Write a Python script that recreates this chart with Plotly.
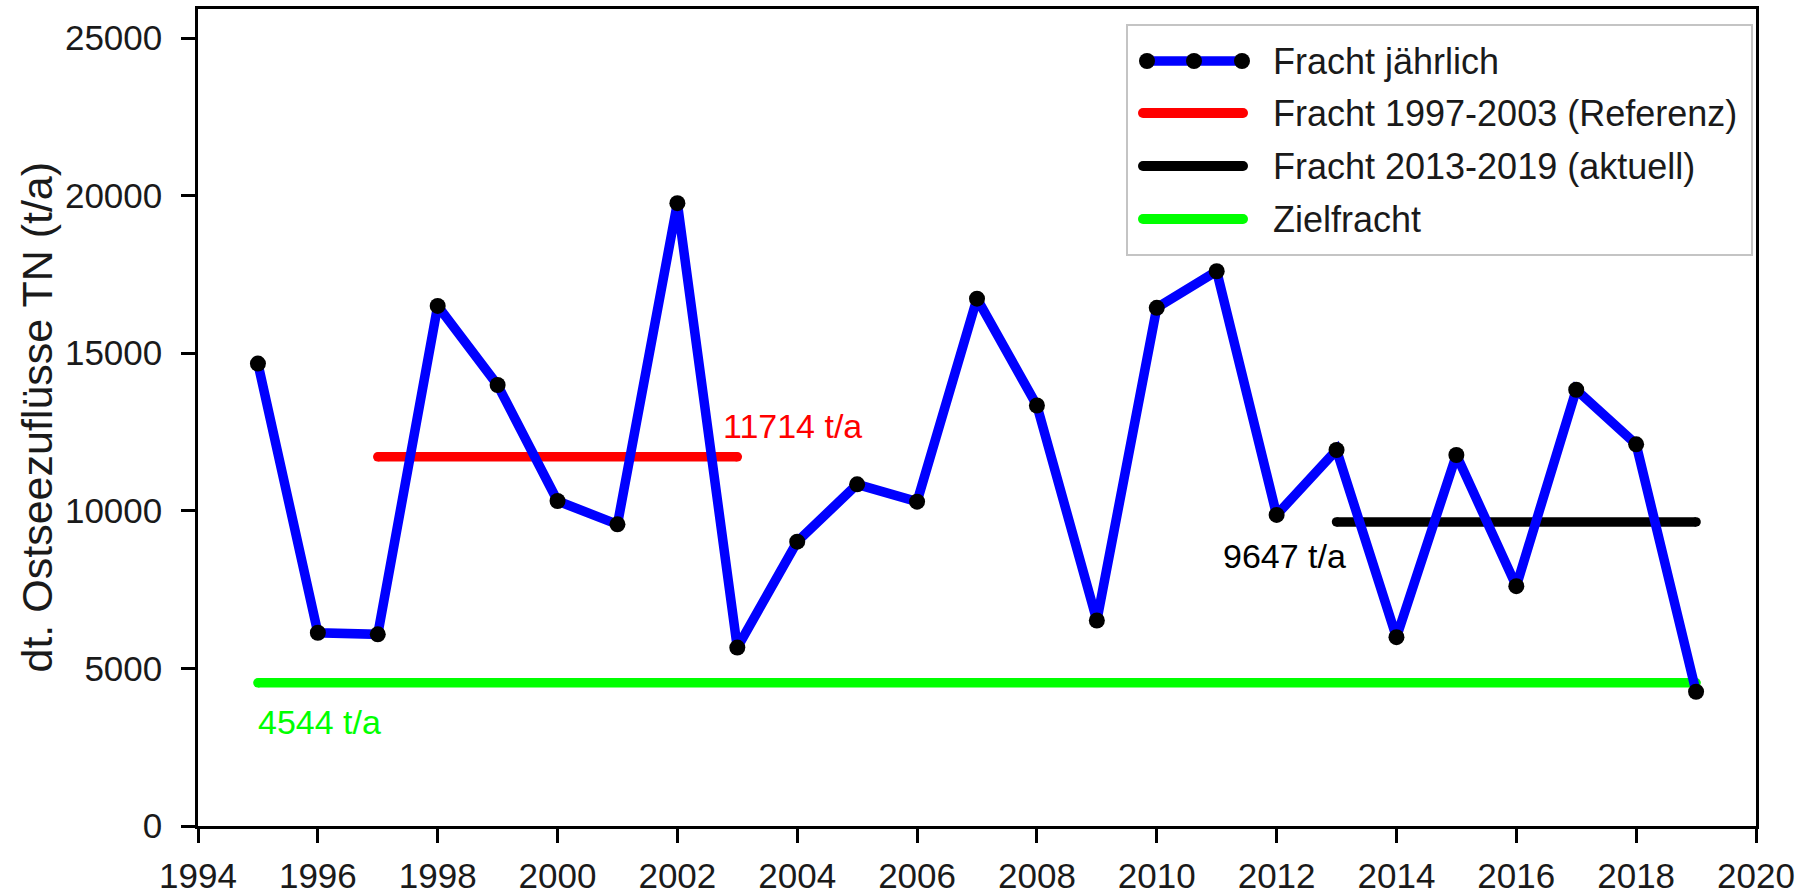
import plotly.graph_objects as go

# Annual total-nitrogen loads of the German Baltic Sea tributaries
years = list(range(1995, 2020))
loads = [14670, 6130, 6080, 16500, 13990, 10310, 9570, 19760, 5660, 9020,
         10840, 10290, 16730, 13340, 6520, 16440, 17600, 9870, 11930, 5990,
         11770, 7610, 13840, 12110, 4260]

# Period means and target load
ref_years = [1997, 2003]
ref_load = 11714
cur_years = [2013, 2019]
cur_load = 9647
target_years = [1995, 2019]
target_load = 4544

legend_labels = ["Fracht jährlich", "Fracht 1997-2003 (Referenz)",
                 "Fracht 2013-2019 (aktuell)", "Zielfracht"]

FONT = "Liberation Sans, Arial, sans-serif"
W, H = 1809, 896
ML, MR, MT, MB = 198, 53, 9, 70
LW = 9.5

fig = go.Figure()


def level_line(xs, val, color):
    # horizontal line with rounded ends (end markers of line width)
    fig.add_trace(go.Scatter(
        x=xs, y=[val, val], mode="lines+markers",
        line=dict(color=color, width=LW),
        marker=dict(color=color, size=LW, line=dict(width=0)),
        showlegend=False, hoverinfo="skip"))


level_line(target_years, target_load, "#00ff00")
level_line(ref_years, ref_load, "#ff0000")
level_line(cur_years, cur_load, "#000000")

fig.add_trace(go.Scatter(
    x=years, y=loads, mode="lines+markers",
    line=dict(color="#0000ff", width=LW),
    marker=dict(color="black", size=16, line=dict(width=0)),
    showlegend=False))

# value labels
label_font = dict(family=FONT, size=34)
fig.add_annotation(x=2002.72, y=12700, text=f"{ref_load} t/a", showarrow=False,
                   xanchor="left", yanchor="middle",
                   font=dict(label_font, color="#ff0000"))
fig.add_annotation(x=2011.07, y=8560, text=f"{cur_load} t/a", showarrow=False,
                   xanchor="left", yanchor="middle",
                   font=dict(label_font, color="#000000"))
fig.add_annotation(x=1994.96, y=3290, text=f"{target_load} t/a", showarrow=False,
                   xanchor="left", yanchor="middle",
                   font=dict(label_font, color="#00ff00"))

# ---- legend drawn on a pixel-scaled overlay axis ----
px_x = [ML, W - MR]
px_y = [H - MB, MT]
row_y = [61, 113, 166, 219]
sample_x = [1143, 1243]
legend_colors = ["#0000ff", "#ff0000", "#000000", "#00ff00"]

fig.add_shape(type="rect", xref="x2", yref="y2", x0=1127, x1=1752, y0=25, y1=255,
              line=dict(color="#c4c4c4", width=2), fillcolor="white", layer="below")

for i, (lab, col) in enumerate(zip(legend_labels, legend_colors)):
    if i == 0:
        fig.add_trace(go.Scatter(
            x=[1147, 1194, 1242], y=[row_y[i]] * 3, xaxis="x2", yaxis="y2",
            mode="lines+markers", line=dict(color=col, width=LW),
            marker=dict(color="black", size=16, line=dict(width=0)),
            showlegend=False, hoverinfo="skip"))
    else:
        fig.add_trace(go.Scatter(
            x=sample_x, y=[row_y[i]] * 2, xaxis="x2", yaxis="y2",
            mode="lines+markers", line=dict(color=col, width=LW + 0.5),
            marker=dict(color=col, size=LW + 0.5, line=dict(width=0)),
            showlegend=False, hoverinfo="skip"))
    fig.add_annotation(x=1271, y=row_y[i], xref="x2", yref="y2", text=lab,
                       showarrow=False, xanchor="left", yanchor="middle",
                       font=dict(family=FONT, size=36, color="#1a1a1a"))

# y-axis title
fig.add_annotation(x=(36 - ML) / (W - ML - MR), y=0.5, xref="paper", yref="paper",
                   text="dt. Ostseezuflüsse TN (t/a)", textangle=-90,
                   showarrow=False, xanchor="center", yanchor="middle",
                   font=dict(family=FONT, size=43, color="#1a1a1a"))

axis_common = dict(
    showgrid=False, zeroline=False, showline=True, linecolor="black",
    linewidth=2.5, mirror=True, ticks="outside", ticklen=14, tickwidth=2.5,
    tickcolor="black", tickformat="d", automargin=False,
    tickfont=dict(family=FONT, size=35, color="#1a1a1a"))

fig.update_layout(
    width=W, height=H,
    margin=dict(l=ML, r=MR, t=MT, b=MB, pad=0, autoexpand=False),
    paper_bgcolor="white", plot_bgcolor="white",
    showlegend=False,
    xaxis=dict(axis_common, range=[1994, 2020], dtick=2, tick0=1994,
               ticklabelstandoff=3),
    yaxis=dict(axis_common, range=[0, 25920], dtick=5000, tick0=0,
               ticklabelstandoff=12),
    xaxis2=dict(overlaying="x", range=px_x, visible=False, fixedrange=True),
    yaxis2=dict(overlaying="y", range=px_y, visible=False, fixedrange=True),
)

fig.write_html("out.html")
